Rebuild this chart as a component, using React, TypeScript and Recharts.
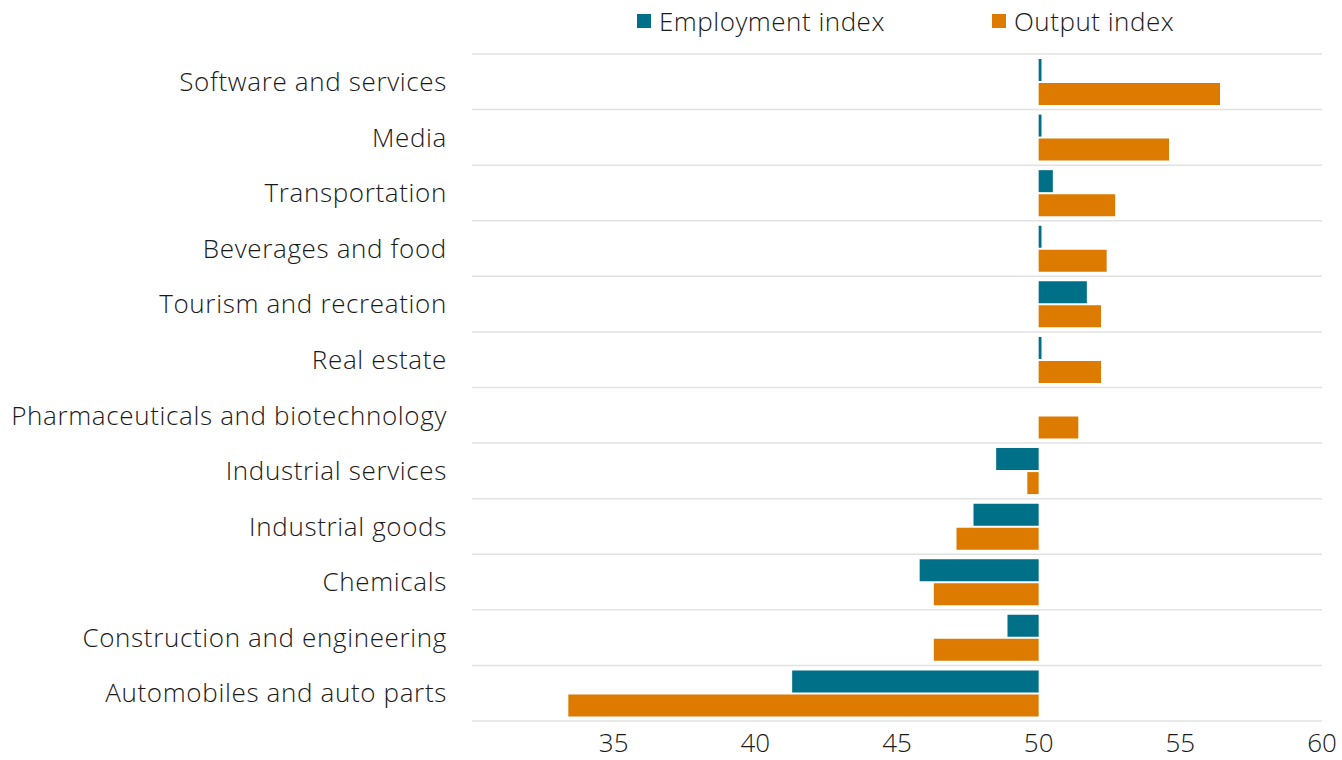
import React from "react";
import { BarChart, Bar, XAxis, YAxis, ReferenceLine } from "recharts";

const categories = [
  "Software and services",
  "Media",
  "Transportation",
  "Beverages and food",
  "Tourism and recreation",
  "Real estate",
  "Pharmaceuticals and biotechnology",
  "Industrial services",
  "Industrial goods",
  "Chemicals",
  "Construction and engineering",
  "Automobiles and auto parts",
];
const employmentIndex = [50.1, 50.1, 50.5, 50.1, 51.7, 50.1, 50.0, 48.5, 47.7, 45.8, 48.9, 41.3];
const outputIndex = [56.4, 54.6, 52.7, 52.4, 52.2, 52.2, 51.4, 49.6, 47.1, 46.3, 46.3, 33.4];
const xTicks = [35, 40, 45, 50, 55, 60];
const seriesNames = ["Employment index", "Output index"];
const BASE = 50;

const TEAL = "#006f88";
const ORANGE = "#dd7a00";
const GRID = "#e2e2e2";
const FONT = "'Open Sans', 'Noto Sans', sans-serif";
const TEXT = "#1a1a1a";

const data = categories.map((name, i) => ({
  name,
  emp: [Math.min(BASE, employmentIndex[i]), Math.max(BASE, employmentIndex[i])],
  out: [Math.min(BASE, outputIndex[i]), Math.max(BASE, outputIndex[i])],
}));

const LegendBox = () => (
  <div
    style={{
      position: "absolute",
      top: 4,
      left: 637,
      display: "flex",
      fontFamily: FONT,
      fontWeight: 300,
      fontSize: 26,
      letterSpacing: 0.5,
      color: TEXT,
      lineHeight: "34px",
    }}
  >
    <div style={{ display: "flex", alignItems: "center", width: 355 }}>
      <span style={{ display: "inline-block", width: 14, height: 14, background: TEAL, marginRight: 8 }} />
      {seriesNames[0]}
    </div>
    <div style={{ display: "flex", alignItems: "center" }}>
      <span style={{ display: "inline-block", width: 14, height: 14, background: ORANGE, marginRight: 8 }} />
      {seriesNames[1]}
    </div>
  </div>
);

export default function App() {
  return (
    <div style={{ position: "absolute", left: 0, top: 0, width: 1342, height: 760, background: "#fff" }}>
      <BarChart
        width={1342}
        height={760}
        data={data}
        layout="vertical"
        margin={{ top: 54, right: 20, bottom: 0, left: 0 }}
        barCategoryGap="9%"
        barGap={2}
      >
        <XAxis
          type="number"
          domain={[30, 60]}
          ticks={xTicks}
          axisLine={{ stroke: GRID, strokeWidth: 1.5 }}
          tickLine={false}
          tickSize={0}
          tickMargin={13}
          height={39}
          tick={{ fill: TEXT, fontSize: 26, fontFamily: FONT, fontWeight: 300 }}
        />
        <YAxis
          type="category"
          dataKey="name"
          width={472}
          axisLine={false}
          tickLine={false}
          tickSize={0}
          tickMargin={25}
          interval={0}
          tick={{ fill: TEXT, fontSize: 26, fontFamily: FONT, fontWeight: 300, letterSpacing: 0.65 }}
        />
        {categories.map((c) => (
          <ReferenceLine key={c} y={c} position="start" stroke={GRID} strokeWidth={1.5} />
        ))}
        <Bar dataKey="emp" name={seriesNames[0]} fill={TEAL} isAnimationActive={false} />
        <Bar dataKey="out" name={seriesNames[1]} fill={ORANGE} isAnimationActive={false} />
      </BarChart>
      <LegendBox />
    </div>
  );
}
